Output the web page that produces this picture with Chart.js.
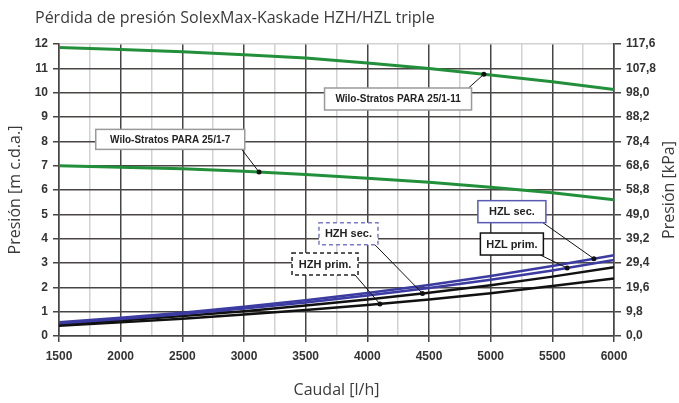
<!DOCTYPE html>
<html lang="es">
<head>
<meta charset="utf-8">
<title>Pérdida de presión SolexMax-Kaskade HZH/HZL triple</title>
<script src="https://cdn.jsdelivr.net/npm/chart.js@4.4.1/dist/chart.umd.min.js"></script>
<style>
  html, body { margin: 0; padding: 0; background: #fff; }
  #wrap { width: 679px; height: 403px; }
</style>
</head>
<body>
<div id="wrap"><canvas id="perdidaChart" width="679" height="403"></canvas></div>
<script>
// --- DATOS ---
const caudal   = [1500, 2000, 2500, 3000, 3500, 4000, 4500, 5000, 5500, 6000];
const wilo11   = [11.86, 11.77, 11.68, 11.56, 11.42, 11.22, 10.99, 10.73, 10.45, 10.13];
const wilo7    = [7.00, 6.94, 6.87, 6.77, 6.64, 6.48, 6.32, 6.11, 5.89, 5.60];
const hzlSec   = [0.56, 0.75, 0.96, 1.20, 1.47, 1.77, 2.10, 2.47, 2.88, 3.32];
const hzhSec   = [0.52, 0.70, 0.90, 1.13, 1.38, 1.66, 1.97, 2.31, 2.69, 3.12];
const hzlPrim  = [0.48, 0.64, 0.82, 1.02, 1.25, 1.50, 1.78, 2.09, 2.44, 2.83];
const hzhPrim  = [0.42, 0.56, 0.71, 0.88, 1.07, 1.27, 1.50, 1.76, 2.05, 2.36];

// etiquetas y el caudal donde apunta cada una
const etiquetas   = ['Wilo-Stratos PARA 25/1-11', 'Wilo-Stratos PARA 25/1-7', 'HZL sec.', 'HZL prim.', 'HZH sec.', 'HZH prim.'];
const anclaCaudal = [4945, 3122, 5837, 5620, 4447, 4102];

const titulo = 'Pérdida de presión SolexMax-Kaskade HZH/HZL triple';
const kPaPorMetro = 9.8;

const series = [wilo11, wilo7, hzlSec, hzhSec, hzlPrim, hzhPrim];
const colores = ['#22903a', '#22903a', '#3b3ba2', '#3b3ba2', '#111111', '#111111'];

function interpola(serie, q) {
    for (let i = 0; i < caudal.length - 1; i++) {
        if (q >= caudal[i] && q <= caudal[i + 1]) {
            const t = (q - caudal[i]) / (caudal[i + 1] - caudal[i]);
            return serie[i] + t * (serie[i + 1] - serie[i]);
        }
    }
    return serie[serie.length - 1];
}

const GRID_OSCURO = '#4a4545';
const GRID_CLARO = '#d2d2d2';

// cajas de las etiquetas (centro en unidades de datos, tamaño en px)
const cajas = [
    { q: 4249, v: 9.74, w: 147, h: 22, esquina: 'tr', borde: '#9a9a9a', guion: [], font: 'bold 10px "Liberation Sans", Arial' },
    { q: 2402, v: 8.08, w: 149, h: 20, esquina: 'br', borde: '#9a9a9a', guion: [], font: 'bold 10px "Liberation Sans", Arial' },
    { q: 5172, v: 5.11, w: 68, h: 22, esquina: 'br', borde: '#5a5ab4', guion: [], font: 'bold 11px "Liberation Sans", Arial' },
    { q: 5172, v: 3.78, w: 63, h: 22, esquina: 'br', borde: '#111', guion: [], font: 'bold 11px "Liberation Sans", Arial' },
    { q: 3847, v: 4.20, w: 59, h: 22, esquina: 'br', borde: '#7b7bc8', guion: [4, 3], font: 'bold 11px "Liberation Sans", Arial' },
    { q: 3657, v: 2.96, w: 66, h: 22, esquina: 'br', borde: '#222', guion: [4, 3], font: 'bold 11px "Liberation Sans", Arial' }
];

const etiquetasPlugin = {
    id: 'etiquetas',
    afterDatasetsDraw(chart) {
        const { ctx, scales: { x, y } } = chart;
        ctx.save();
        cajas.forEach((c, i) => {
            const cx = x.getPixelForValue(c.q);
            const cy = y.getPixelForValue(c.v);
            const left = cx - c.w / 2, top = cy - c.h / 2;
            const ax = x.getPixelForValue(anclaCaudal[i]);
            const ay = y.getPixelForValue(interpola(series[i], anclaCaudal[i]));
            const sx = left + c.w - 3;
            const sy = c.esquina === 'tr' ? top : top + c.h;
            // linea guia
            ctx.strokeStyle = '#111';
            ctx.lineWidth = 1;
            ctx.setLineDash([]);
            ctx.beginPath();
            ctx.moveTo(sx, sy);
            ctx.lineTo(ax, ay);
            ctx.stroke();
            ctx.fillStyle = '#111';
            ctx.beginPath();
            ctx.arc(ax, ay, 2.5, 0, Math.PI * 2);
            ctx.fill();
            // caja
            ctx.fillStyle = '#fff';
            ctx.fillRect(left, top, c.w, c.h);
            ctx.strokeStyle = c.borde;
            ctx.lineWidth = 1.5;
            ctx.setLineDash(c.guion);
            ctx.strokeRect(left, top, c.w, c.h);
            ctx.setLineDash([]);
            ctx.fillStyle = '#222';
            ctx.font = c.font;
            ctx.textAlign = 'center';
            ctx.textBaseline = 'middle';
            ctx.fillText(etiquetas[i], cx, cy + 0.5);
        });
        ctx.restore();
    }
};

const textosPlugin = {
    id: 'textos',
    afterDraw(chart) {
        const { ctx, chartArea } = chart;
        ctx.save();
        ctx.fillStyle = '#3a3a3a';
        ctx.font = '16px "Open Sans"';
        ctx.textAlign = 'left';
        ctx.textBaseline = 'middle';
        ctx.fillText(titulo, 35, 18);
        // titulo del eje derecho, leido de abajo hacia arriba
        ctx.translate(669, (chartArea.top + chartArea.bottom) / 2);
        ctx.rotate(-Math.PI / 2);
        ctx.textAlign = 'center';
        ctx.fillText('Presión [kPa]', 0, 0);
        ctx.restore();
    }
};

const tickFont = { family: '"Liberation Sans", Arial', size: 12, weight: 'bold' };
const tituloFont = { family: '"Open Sans"', size: 16 };

new Chart(document.getElementById('perdidaChart'), {
    type: 'line',
    data: {
        datasets: series.map((s, i) => ({
            label: etiquetas[i],
            data: caudal.map((q, j) => ({ x: q, y: s[j] })),
            borderColor: colores[i],
            borderWidth: i < 2 ? 3 : 2.5,
            pointRadius: 0,
            tension: 0,
            fill: false
        }))
    },
    options: {
        responsive: false,
        animation: false,
        devicePixelRatio: 1,
        layout: { padding: { top: 44, left: 0, right: 0, bottom: 0 } },
        plugins: { legend: { display: false }, tooltip: { enabled: false } },
        scales: {
            x: {
                type: 'linear',
                position: 'bottom',
                min: 1500,
                max: 6000,
                ticks: {
                    stepSize: 250,
                    autoSkip: false,
                    maxRotation: 0,
                    padding: 7,
                    color: '#333',
                    font: tickFont,
                    callback: v => (v % 500 === 0 ? String(v) : '')
                },
                grid: {
                    color: c => (c.tick && c.tick.value % 500 === 0 ? GRID_OSCURO : GRID_CLARO),
                    tickColor: c => (c.tick && c.tick.value % 500 === 0 ? GRID_OSCURO : 'rgba(0,0,0,0)'),
                    lineWidth: 1.5,
                    tickLength: 6
                },
                border: { color: GRID_OSCURO, width: 1.5 },
                title: { display: true, text: 'Caudal [l/h]', color: '#3a3a3a', font: tituloFont, padding: { top: 0, bottom: 3 } },
                afterFit: s => { s.height = 67; }
            },
            y: {
                position: 'left',
                min: 0,
                max: 12,
                ticks: { stepSize: 1, padding: 5, color: '#333', font: tickFont },
                grid: {
                    color: c => (c.tick && c.tick.value === 12 ? GRID_CLARO : GRID_OSCURO),
                    tickColor: GRID_OSCURO,
                    lineWidth: 1.5,
                    tickLength: 6
                },
                border: { color: GRID_OSCURO, width: 1.5 },
                title: { display: true, text: 'Presión [m c.d.a.]', color: '#3a3a3a', font: tituloFont, padding: { top: 6 } },
                afterFit: s => { s.width = 59; }
            },
            y2: {
                position: 'right',
                min: 0,
                max: 12 * kPaPorMetro,
                ticks: {
                    stepSize: kPaPorMetro,
                    padding: 5,
                    color: '#333',
                    font: tickFont,
                    callback: v => v.toFixed(1).replace('.', ',')
                },
                grid: { drawOnChartArea: false, color: GRID_OSCURO, lineWidth: 1.5, tickLength: 7 },
                border: { color: GRID_OSCURO, width: 1.5 },
                afterFit: s => { s.width = 65; }
            }
        }
    },
    plugins: [etiquetasPlugin, textosPlugin]
});
</script>
</body>
</html>
